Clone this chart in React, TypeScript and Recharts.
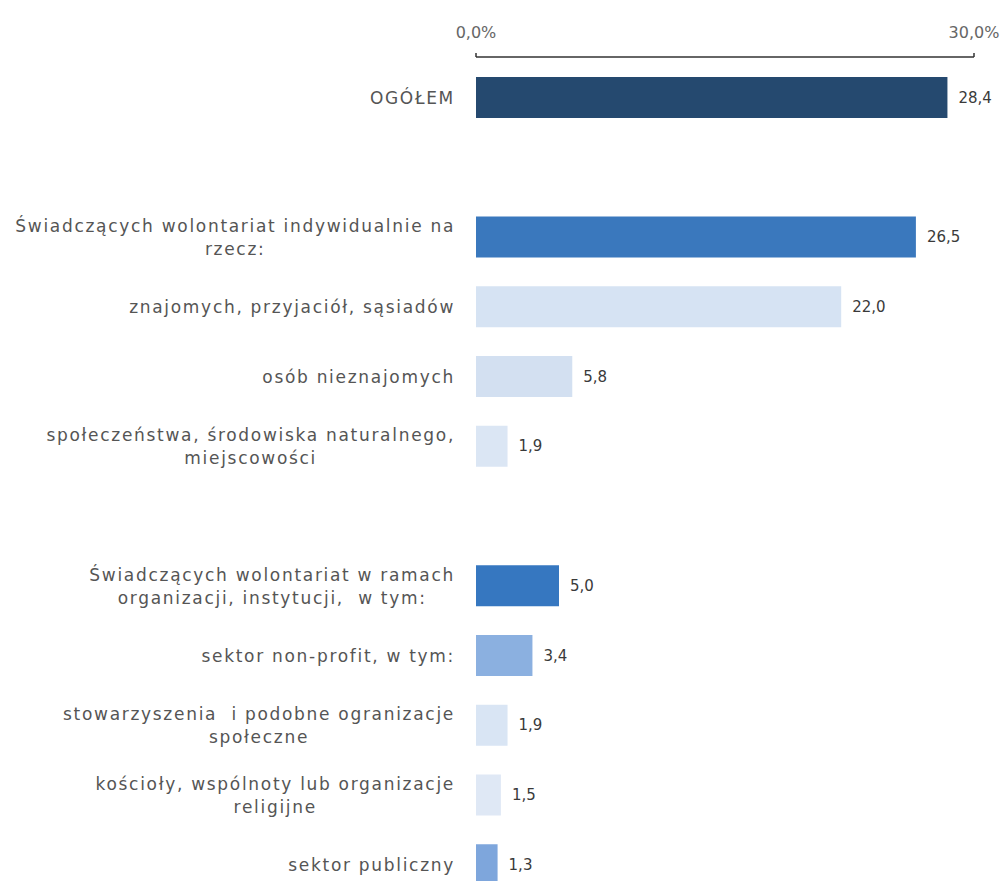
import { Bar, BarChart, Cell, LabelList, XAxis, YAxis } from "recharts";

const categories = [
  "OGÓŁEM",
  "",
  "Świadczących wolontariat indywidualnie na\nrzecz:",
  "znajomych, przyjaciół, sąsiadów",
  "osób nieznajomych",
  "społeczeństwa, środowiska naturalnego,\nmiejscowości",
  " ",
  "Świadczących wolontariat w ramach\norganizacji, instytucji,  w tym:",
  "sektor non-profit, w tym:",
  "stowarzyszenia  i podobne ogranizacje\nspołeczne",
  "kościoły, wspólnoty lub organizacje\nreligijne",
  "sektor publiczny",
];

const values: (number | null)[] = [28.4, null, 26.5, 22.0, 5.8, 1.9, null, 5.0, 3.4, 1.9, 1.5, 1.3];

const xTicks = [0, 30];

const barColors = [
  "#25496f", "#fff", "#3a78bd", "#d6e3f3", "#d3e0f1", "#dbe6f4",
  "#fff", "#3677c0", "#8bb0e0", "#d9e5f4", "#dfe8f5", "#7ea6dc",
];

const FONT = "DejaVu Sans";
const FONT_SIZE = 17;
const SPACING = 1.7;

const data = categories.map((name, i) => ({ name, value: values[i] }));

let ctx: CanvasRenderingContext2D | null = null;
function textWidth(s: string) {
  if (!ctx) ctx = document.createElement("canvas").getContext("2d");
  if (!ctx) return s.length * (9 + SPACING);
  ctx.font = `${FONT_SIZE}px "${FONT}"`;
  return ctx.measureText(s).width + s.length * SPACING;
}

function CategoryTick({ x, y, payload }: any) {
  const label: string = payload.value;
  if (!label.trim()) return null;
  const lines = label.split("\n");
  const maxW = Math.max(...lines.map(textWidth));
  const cx = x - maxW / 2;
  const lh = 23;
  const top = y - ((lines.length - 1) * lh) / 2;
  return (
    <g>
      {lines.map((ln, i) => (
        <text
          key={i}
          x={cx}
          y={top + i * lh}
          textAnchor="middle"
          dominantBaseline="central"
          fill="#555"
          fontSize={FONT_SIZE}
          fontFamily={FONT}
          letterSpacing={SPACING}
          style={{ whiteSpace: "pre" }}
        >
          {ln}
        </text>
      ))}
    </g>
  );
}

function ValueLabel(props: any) {
  const { x, y, width, height, value } = props;
  if (value == null) return null;
  return (
    <text
      x={x + width + 11}
      y={y + height / 2}
      dominantBaseline="central"
      fill="#3a3a3a"
      fontSize={15}
      fontFamily={FONT}
    >
      {Number(value).toFixed(1).replace(".", ",")}
    </text>
  );
}

export default function App() {
  return (
    <div
      style={{
        position: "absolute",
        left: 0,
        top: 0,
        width: 1005,
        height: 881,
        overflow: "hidden",
        background: "#fff",
      }}
    >
      <BarChart
        width={1005}
        height={930}
        data={data}
        layout="vertical"
        margin={{ top: 0, right: 31, left: 6, bottom: 30 }}
        barCategoryGap={0}
      >
        <XAxis
          type="number"
          orientation="top"
          domain={[0, 30]}
          ticks={xTicks}
          height={57}
          tickSize={4}
          tickMargin={15}
          axisLine={{ stroke: "#333", strokeWidth: 1.5 }}
          tickLine={{ stroke: "#333", strokeWidth: 1.5 }}
          tick={{ fill: "#666", fontSize: 16, fontFamily: FONT }}
          tickFormatter={(v) => `${Number(v).toFixed(1).replace(".", ",")}%`}
        />
        <YAxis
          type="category"
          dataKey="name"
          width={470}
          padding={{ top: 6, bottom: 0 }}
          axisLine={false}
          tickLine={false}
          tickSize={0}
          tickMargin={21}
          interval={0}
          tick={<CategoryTick />}
        />
        <Bar dataKey="value" barSize={41} isAnimationActive={false}>
          {data.map((_, i) => (
            <Cell key={i} fill={barColors[i]} />
          ))}
          <LabelList dataKey="value" content={<ValueLabel />} />
        </Bar>
      </BarChart>
    </div>
  );
}
